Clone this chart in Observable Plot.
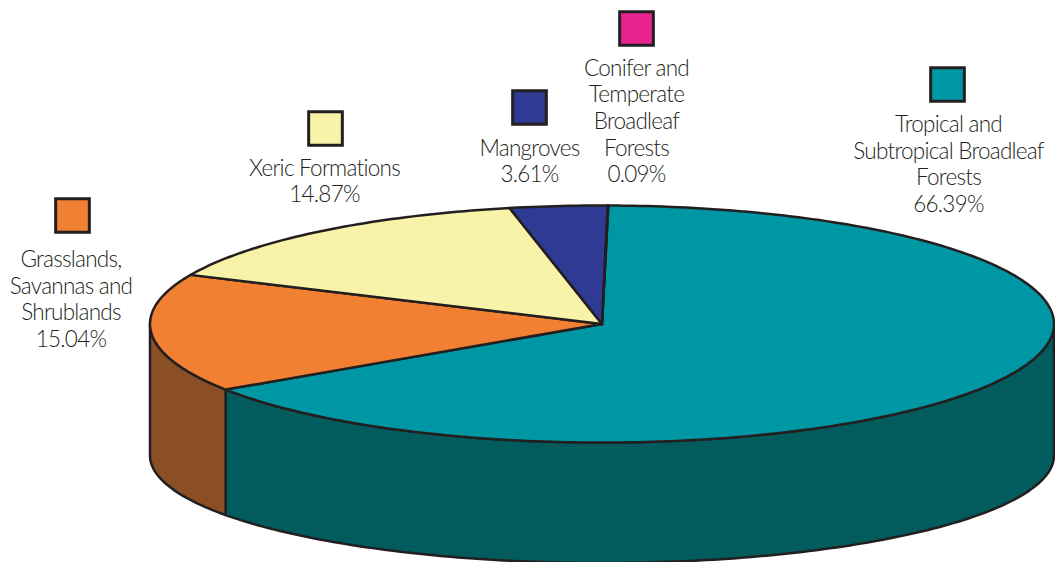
<!DOCTYPE html>
<html>
<head>
<meta charset="utf-8">
<script src="https://cdn.jsdelivr.net/npm/d3@7"></script>
<script src="https://cdn.jsdelivr.net/npm/@observablehq/plot@0.6"></script>
<style>
html,body{margin:0;padding:0;background:#fff;overflow:hidden}
svg{display:block}
</style>
</head>
<body>
<div id="chart"></div>
<script>
// Slices in drawing order, clockwise from the top of the disc
const names = [
  "Tropical and\nSubtropical Broadleaf\nForests",
  "Grasslands,\nSavannas and\nShrublands",
  "Xeric Formations",
  "Mangroves",
  "Conifer and\nTemperate\nBroadleaf\nForests"
];
// Printed percentages
const printed = [66.39, 15.04, 14.87, 3.61, 0.09];
// Share of the disc each slice occupies
const drawnShare = [65.44, 16.14, 14.92, 3.48, 0.02];
const topColors = ["#0097a4", "#f28032", "#f8f3a9", "#2f3a94", "#e8238f"];
const wallColors = ["#025c5d", "#8b4f25", "#8b4f25", "#2f3a94", "#e8238f"];

// Legend and label layout
const swatchX = [947, 72, 325, 529, 636];
const swatchY = [84, 215, 128, 107, 28];
const labelX = [948, 70.5, 324, 529, 636];
const labelY = [163, 298, 180, 160, 120];

// Disc geometry
const cx = 601.5, cy = 323.5, rx = 452, ry = 118.5;
const baseCy = 455, baseRy = 107.5;
const startDeg = 0.8;

const ink = "#231f20";
const rad = d => d * Math.PI / 180;
const top_ = deg => [cx + rx * Math.sin(rad(deg)), cy - ry * Math.cos(rad(deg))];
const bottom_ = deg => [cx + rx * Math.sin(rad(deg)), baseCy - baseRy * Math.cos(rad(deg))];

let cursor = startDeg;
const spans = drawnShare.map(s => {
  const a = cursor, b = cursor + s * 3.6;
  cursor = b;
  return [a, b];
});

const arc = (a, b, f) => {
  const n = Math.max(2, Math.ceil(b - a) + 1);
  return d3.range(n).map(i => f(a + (b - a) * i / (n - 1)));
};

const topRings = spans.map((([a, b], i) => {
  const pts = [[cx, cy], ...arc(a, b, top_), [cx, cy]];
  return pts.map(([x, y]) => ({x, y, id: "t" + i, c: topColors[i]}));
}));

const wallRings = spans.flatMap(([a, b], i) => {
  const lo = Math.max(a, 90), hi = Math.min(b, 270);
  if (hi <= lo) return [];
  const upper = arc(lo, hi, top_);
  const lower = arc(lo, hi, bottom_).reverse();
  const pts = [...upper, ...lower, upper[0]];
  return [pts.map(([x, y]) => ({x, y, id: "w" + i, c: wallColors[i]}))];
});

const ringMark = rows => Plot.line(rows, {
  x: "x", y: "y", z: "id", fill: "c",
  stroke: ink, strokeWidth: 2.5, strokeLinejoin: "round", curve: "linear"
});

const legend = names.map((n, i) => ({
  label: n + "\n" + printed[i].toFixed(2) + "%",
  sx: swatchX[i], sy: swatchY[i], lx: labelX[i], ly: labelY[i], c: topColors[i]
}));

const chart = Plot.plot({
  width: 1055,
  height: 562,
  margin: 0,
  style: {background: "#fff", letterSpacing: "-0.75px"},
  x: {domain: [0, 1055], range: [0, 1055], axis: null},
  y: {domain: [0, 562], range: [0, 562], axis: null},
  color: {type: "identity"},
  marks: [
    ...wallRings.map(ringMark),
    ...topRings.map(ringMark),
    Plot.dot(legend, {
      x: "sx", y: "sy", symbol: "square", r: 19, fill: "c",
      stroke: ink, strokeWidth: 3
    }),
    Plot.text(legend, {
      x: "lx", y: "ly", text: "label", textAnchor: "middle", lineAnchor: "middle",
      lineHeight: 1.18, fontSize: 22.5, fontWeight: 300, fontFamily: "Lato",
      fill: ink
    })
  ]
});
document.getElementById("chart").append(chart);
</script>
</body>
</html>
